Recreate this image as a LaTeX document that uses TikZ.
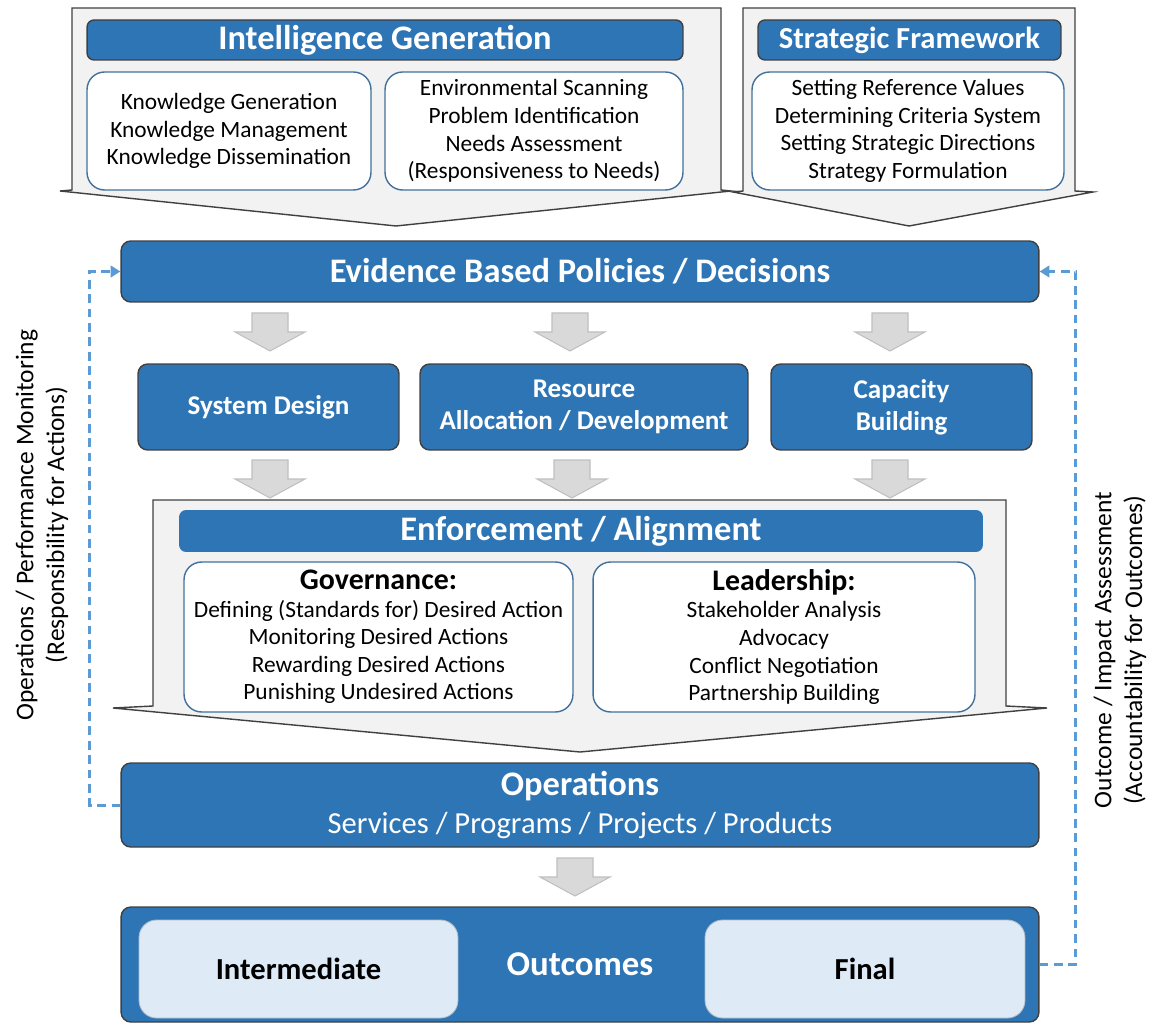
\documentclass[tikz,border=0pt]{standalone}
\usepackage{fontspec}
\setmainfont{Carlito}
\usetikzlibrary{positioning,arrows.meta}

\definecolor{boxblue}{HTML}{2E75B6}
\definecolor{edgeblue}{HTML}{41719C}
\definecolor{dashblue}{HTML}{5B9BD5}
\definecolor{paleblue}{HTML}{DEEBF7}
\definecolor{chevgray}{HTML}{F2F2F2}
\definecolor{arrowgray}{HTML}{D9D9D9}

\tikzset{
  bluebox/.style={draw=black!75, line width=0.8pt, fill=boxblue, rounded corners=5.5pt,
    text=white, font=\bfseries, align=center, inner sep=0pt},
  headbar/.style={bluebox, rounded corners=4pt, font=\fontsize{19.6}{22}\selectfont\bfseries},
  listbox/.style={draw=edgeblue, line width=0.8pt, fill=white, rounded corners=10pt,
    align=center, inner sep=0pt, font=\fontsize{13.3}{15.7}\selectfont},
  palebox/.style={fill=paleblue, draw=paleblue!80!black, line width=0.5pt, rounded corners=10pt,
    inner sep=0pt, font=\fontsize{17.4}{20}\selectfont\bfseries},
  chevron/.style={draw=black!75, line width=0.8pt, fill=chevgray},
  grayblock/.style={draw=black!25, line width=0.6pt, fill=arrowgray},
  feedback/.style={draw=dashblue, line width=1.7pt, dash pattern=on 5pt off 3.2pt,
    -{Triangle[length=5.5pt,width=6.5pt]}},
  sidetext/.style={rotate=90, align=center, font=\fontsize{14.5}{17.5}\selectfont}
}

% gray block arrow pointing down, tip at #2+38
\newcommand{\grayblock}[2]{%
  \draw[grayblock] (#1-18,#2) -- (#1+18,#2) -- (#1+18,#2+19) -- (#1+35,#2+19)
    -- (#1,#2+38) -- (#1-35,#2+19) -- (#1-18,#2+19) -- cycle;}

\begin{document}
\begin{tikzpicture}[x=0.02cm, y=-0.02cm]
\useasboundingbox (0,0) rectangle (1151,1026);

% chevrons
\draw[chevron] (72,8) -- (721,8) -- (721,190) -- (731,191) -- (396,226) -- (60,191) -- (72,190) -- cycle;
\draw[chevron] (743,8) -- (1075,8) -- (1075,191) -- (1093,192) -- (909,226) -- (733,192) -- (743,191) -- cycle;
\draw[chevron] (153,500) -- (1006,500) -- (1006,706) -- (1047,708) -- (580,752) -- (113,708) -- (153,706) -- cycle;

% top row
\node[headbar, minimum width=11.92cm, minimum height=0.8cm] (intel) at (385,40) {Intelligence Generation};
\node[listbox, minimum width=5.68cm, minimum height=2.36cm] (know) at (229,131)
  {Knowledge Generation\\Knowledge Management\\Knowledge Dissemination};
\node[listbox, minimum width=5.96cm, minimum height=2.36cm] (scan) at (534,131)
  {Environmental Scanning\\Problem Identification\\Needs Assessment\\(Responsiveness to Needs)};
\node[headbar, minimum width=6.06cm, minimum height=0.8cm, font=\fontsize{17.4}{20}\selectfont\bfseries]
  (strathead) at (909.5,40) {Strategic Framework};
\node[listbox, minimum width=6.24cm, minimum height=2.36cm] (strat) at (908,131)
  {Setting Reference Values\\Determining Criteria System\\Setting Strategic Directions\\Strategy Formulation};

% policies
\node[bluebox, minimum width=18.36cm, minimum height=1.22cm, font=\fontsize{19.6}{22}\selectfont\bfseries]
  (evid) at (580,271.5) {Evidence Based Policies / Decisions};

\grayblock{270}{313}
\grayblock{570}{313}
\grayblock{890}{313}

\node[bluebox, minimum width=5.22cm, minimum height=1.72cm, font=\fontsize{15.4}{18}\selectfont\bfseries]
  (sysdes) at (268.5,407) {System Design};
\node[bluebox, minimum width=6.56cm, minimum height=1.72cm, font=\fontsize{15.4}{18}\selectfont\bfseries]
  (resalloc) at (584,407) {Resource\\Allocation / Development};
\node[bluebox, minimum width=5.22cm, minimum height=1.72cm, font=\fontsize{15.4}{18}\selectfont\bfseries]
  (capbuild) at (901.5,407) {Capacity\\Building};

\grayblock{270}{460}
\grayblock{572}{460}
\grayblock{890}{460}

% enforcement
\node[headbar, draw=none, minimum width=16.08cm, minimum height=0.84cm] (enf) at (581,531) {Enforcement / Alignment};
\node[listbox, minimum width=7.78cm, minimum height=3.0cm] (gov) at (378.5,637)
  {{\fontsize{17}{19}\selectfont\bfseries Governance:}\\Defining (Standards for) Desired Action\\Monitoring Desired Actions\\Rewarding Desired Actions\\Punishing Undesired Actions};
\node[listbox, minimum width=7.64cm, minimum height=3.0cm] (lead) at (784,637)
  {{\fontsize{17}{19}\selectfont\bfseries Leadership:}\\Stakeholder Analysis\\Advocacy\\Conflict Negotiation\\Partnership Building};

% operations and outcomes
\node[bluebox, minimum width=18.36cm, minimum height=1.68cm, font=\fontsize{17.4}{22}\selectfont]
  (oper) at (580,805) {{\fontsize{19.6}{22}\selectfont\bfseries Operations}\\Services / Programs / Projects / Products};

\grayblock{575}{858}

\node[bluebox, minimum width=18.36cm, minimum height=2.3cm, font=\fontsize{19.8}{22}\selectfont\bfseries]
  (outc) at (580,964.5) {Outcomes};
\node[palebox, minimum width=6.38cm, minimum height=1.96cm] (inter) at (298.5,969) {Intermediate};
\node[palebox, minimum width=6.4cm, minimum height=1.96cm] (final) at (865,969) {Final};

% feedback loops
\draw[feedback] (oper.west) -- ++(-31,0) |- (evid.west);
\draw[feedback] (outc.east) -- ++(36,0) |- (evid.east);

\node[sidetext] (monlabel) at (42,525) {Operations / Performance Monitoring\\(Responsibility for Actions)};
\node[sidetext] (asslabel) at (1120,650) {Outcome / Impact Assessment\\(Accountability for Outcomes)};
\end{tikzpicture}
\end{document}
